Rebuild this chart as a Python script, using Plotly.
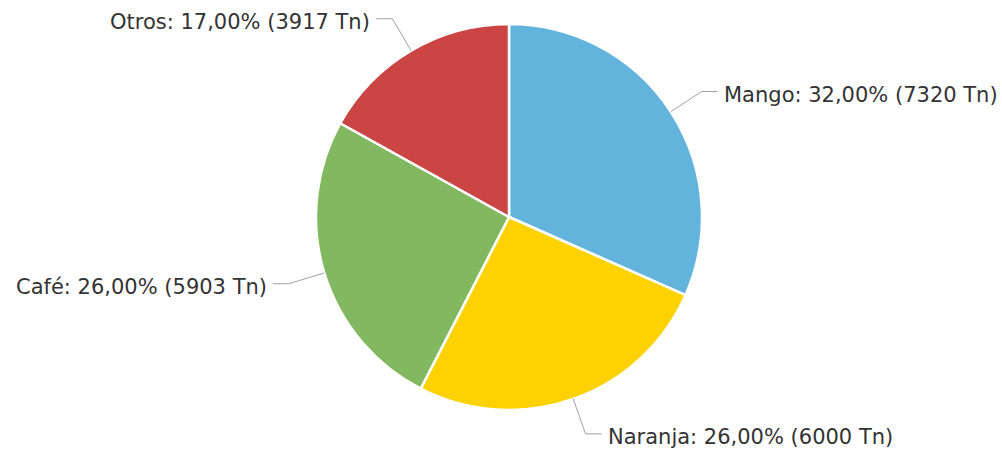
import math
import plotly.graph_objects as go

categories = ["Mango", "Naranja", "Café", "Otros"]
values = [7320, 6000, 5903, 3917]
colors = ["#63B4DC", "#FDD200", "#82B860", "#CB4545"]

W, H = 1002, 450
CX, CY, R = 509, 217, 193  # pie center / radius in pixels (layout)

total = sum(values)
pcts = [round(v / total * 100) for v in values]
labels = [f"{c}: {p:.2f}%".replace(".", ",") + f" ({v} Tn)" for c, p, v in zip(categories, pcts, values)]

fig = go.Figure(go.Pie(
    labels=categories, values=values, sort=False, direction="clockwise", rotation=0,
    marker=dict(colors=colors, line=dict(color="white", width=2.5)),
    textinfo="none", hoverinfo="label+value+percent", showlegend=False,
    domain=dict(x=[(CX - R) / W, (CX + R) / W], y=[(H - CY - R) / H, (H - CY + R) / H]),
))

def px2paper(x, y):
    return x / W, 1 - y / H

shapes, annotations = [], []
cum = 0
for lab, v in zip(labels, values):
    mid = (cum + v / 2) / total * 2 * math.pi
    cum += v
    s, c = math.sin(mid), math.cos(mid)
    x0, y0 = CX + R * s, CY - R * c
    x1, y1 = CX + (R + 37) * s, CY - (R + 37) * c
    side = 1 if s >= 0 else -1
    x2 = x1 + side * 16
    p0, p1, p2 = px2paper(x0, y0), px2paper(x1, y1), px2paper(x2, y1)
    shapes.append(dict(type="path", xref="paper", yref="paper",
                       path=f"M {p0[0]},{p0[1]} L {p1[0]},{p1[1]} L {p2[0]},{p2[1]}",
                       line=dict(color="#A0A0A0", width=1)))
    tx, ty = px2paper(x2 + side * 4, y1 + 3)
    annotations.append(dict(x=tx, y=ty, xref="paper", yref="paper", text=lab, showarrow=False,
                            xanchor="left" if side > 0 else "right", yanchor="middle",
                            font=dict(family="DejaVu Sans, Verdana, sans-serif", size=21, color="#333333")))

fig.update_layout(width=W, height=H, margin=dict(l=0, r=0, t=0, b=0),
                  paper_bgcolor="white", plot_bgcolor="white",
                  shapes=shapes, annotations=annotations)
fig.write_html("out.html", config={"displayModeBar": False})

with open("out.html", encoding="utf-8") as f:
    html = f.read()
html = html.replace("<body>", '<body style="margin:0;overflow:hidden">', 1)
with open("out.html", "w", encoding="utf-8") as f:
    f.write(html)
